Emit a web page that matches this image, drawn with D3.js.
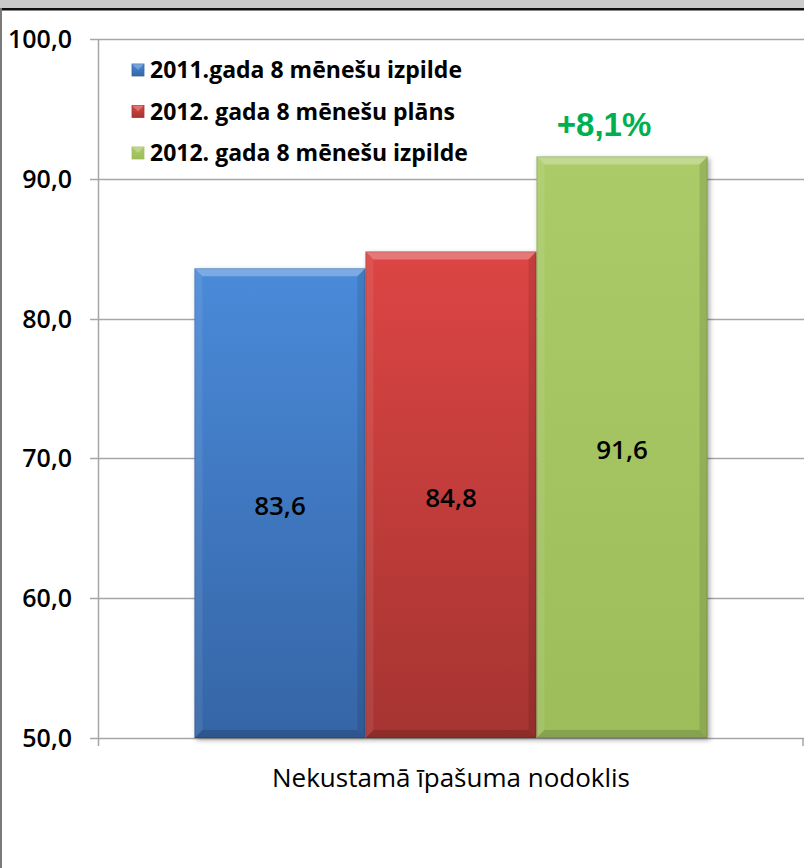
<!DOCTYPE html>
<html><head><meta charset="utf-8">
<script src="https://cdn.jsdelivr.net/npm/d3@7"></script>
<style>
body{margin:0;background:#fff;}
svg{display:block;}
</style></head>
<body>
<svg id="c" width="804" height="868"></svg>
<script>
const category = "Nekustamā īpašuma nodoklis";
const seriesNames = ["2011.gada 8 mēnešu izpilde", "2012. gada 8 mēnešu plāns", "2012. gada 8 mēnešu izpilde"];
const values = [83.6, 84.8, 91.6];
const valueLabels = ["83,6", "84,8", "91,6"];
const yTicks = [50, 60, 70, 80, 90, 100];
const yTickLabels = ["50,0", "60,0", "70,0", "80,0", "90,0", "100,0"];
const growthLabel = "+8,1%";
const colorsTop = ["#4a8ad9", "#dc4544", "#abcb68"];
const colorsBot = ["#3565a6", "#a63431", "#9dbd5b"];

const svg = d3.select("#c");
const W = 804, H = 868;
const FONT = "'Open Sans', 'Noto Sans', sans-serif";

// frame
svg.append("rect").attr("x",0).attr("y",0).attr("width",W).attr("height",H).attr("fill","#fff");
svg.append("rect").attr("x",0).attr("y",0).attr("width",W).attr("height",8).attr("fill","#cbcbcb");
svg.append("rect").attr("x",0).attr("y",8).attr("width",W).attr("height",2.5).attr("fill","#111");
svg.append("rect").attr("x",0).attr("y",8).attr("width",2).attr("height",H-8).attr("fill","#7a7a7a");

const y = d3.scaleLinear().domain([50,100]).range([738,39]);
const xOuter = d3.scaleBand().domain([category]).range([98,804]).paddingInner(0).paddingOuter(0.188);
const x = d3.scaleBand().domain(seriesNames).range([xOuter(category), xOuter(category)+xOuter.bandwidth()]).padding(0);

// gridlines
svg.append("g").selectAll("line").data(yTicks).join("line")
  .attr("x1",90).attr("x2",W).attr("y1",d=>Math.round(y(d))+0.5).attr("y2",d=>Math.round(y(d))+0.5)
  .attr("stroke","#a6a6a6").attr("stroke-width",1.5);
// y axis line
svg.append("line").attr("x1",98.5).attr("x2",98.5).attr("y1",y(100)).attr("y2",y(50)+1)
  .attr("stroke","#a6a6a6").attr("stroke-width",1.5);
// category ticks
svg.append("line").attr("x1",803).attr("x2",803).attr("y1",y(50)).attr("y2",y(50)+8)
  .attr("stroke","#a6a6a6").attr("stroke-width",1.5);
svg.append("line").attr("x1",98.5).attr("x2",98.5).attr("y1",y(50)).attr("y2",y(50)+8)
  .attr("stroke","#a6a6a6").attr("stroke-width",1.5);

// y tick labels
svg.append("g").selectAll("text").data(yTicks).join("text")
  .attr("x",72).attr("y",d=>y(d)+9)
  .attr("text-anchor","end").attr("font-family",FONT).attr("font-size",25).attr("font-weight",600)
  .attr("fill","#000").text((d,i)=>yTickLabels[i]);

// gradients
const defs = svg.append("defs");
seriesNames.forEach((s,i)=>{
  const g = defs.append("linearGradient").attr("id","g"+i).attr("x1",0).attr("y1",0).attr("x2",0).attr("y2",1);
  g.append("stop").attr("offset","0%").attr("stop-color",colorsTop[i]);
  g.append("stop").attr("offset","100%").attr("stop-color",colorsBot[i]);
});
const blur = defs.append("filter").attr("id","sh").attr("x","-10%").attr("y","-10%").attr("width","130%").attr("height","130%");
blur.append("feGaussianBlur").attr("stdDeviation",2.5);

const bars = svg.append("g");
seriesNames.forEach((s,i)=>{
  const x0 = x(s), w = x.bandwidth(), y0 = y(values[i]), y1 = y(50), h = y1-y0;
  const b = 8;
  bars.append("rect").attr("x",x0+2).attr("y",y0+2).attr("width",w).attr("height",h)
    .attr("fill","rgba(0,0,0,0.35)").attr("filter","url(#sh)");
  bars.append("rect").attr("x",x0).attr("y",y0).attr("width",w).attr("height",h).attr("fill","url(#g"+i+")");
  const P = pts => pts.map(p=>p.join(",")).join(" ");
  bars.append("polygon").attr("points",P([[x0,y0],[x0+w,y0],[x0+w-b,y0+b],[x0+b,y0+b]])).attr("fill","rgba(255,255,255,0.28)");
  bars.append("polygon").attr("points",P([[x0,y0],[x0+b,y0+b],[x0+b,y1-b],[x0,y1]])).attr("fill","rgba(255,255,255,0.08)");
  bars.append("polygon").attr("points",P([[x0+w,y0],[x0+w,y1],[x0+w-b,y1-b],[x0+w-b,y0+b]])).attr("fill","rgba(0,0,0,0.10)");
  bars.append("polygon").attr("points",P([[x0,y1],[x0+w,y1],[x0+w-b,y1-b],[x0+b,y1-b]])).attr("fill","rgba(0,0,0,0.14)");
  bars.append("rect").attr("x",x0+0.5).attr("y",y0+0.5).attr("width",w-1).attr("height",h-1)
    .attr("fill","none").attr("stroke","rgba(0,0,0,0.12)").attr("stroke-width",1);
  svg.append("text").attr("x",x0+w/2).attr("y",(y0+y1)/2+12)
    .attr("text-anchor","middle").attr("font-family",FONT).attr("font-size",26).attr("font-weight",600)
    .attr("fill","#000").text(valueLabels[i]);
});

// growth label
const last = seriesNames[2];
svg.append("text").attr("x",x(last)+x.bandwidth()/2-18).attr("y",y(values[2])-20)
  .attr("text-anchor","middle").attr("font-family","'Liberation Sans', Arial, sans-serif")
  .attr("font-size",33).attr("font-weight","bold").attr("fill","#00b050").text(growthLabel);

// category label
svg.append("text").attr("x",xOuter(category)+xOuter.bandwidth()/2).attr("y",787)
  .attr("text-anchor","middle").attr("font-family",FONT).attr("font-size",26)
  .attr("fill","#000").text(category);

// legend
const lg = svg.append("g");
seriesNames.forEach((s,i)=>{
  const cy = 70 + i*41.5;
  lg.append("rect").attr("x",132).attr("y",cy-6).attr("width",12).attr("height",12)
    .attr("fill","url(#g"+i+")").attr("stroke",colorsBot[i]).attr("stroke-width",0.8);
  lg.append("polygon").attr("points",`132,${cy-6} 144,${cy-6} 138,${cy}`).attr("fill","rgba(255,255,255,0.25)");
  lg.append("text").attr("x",150).attr("y",cy+8).attr("font-family",FONT).attr("font-size",23)
    .attr("font-weight",700).attr("fill","#000").text(s);
});
</script>
</body></html>
